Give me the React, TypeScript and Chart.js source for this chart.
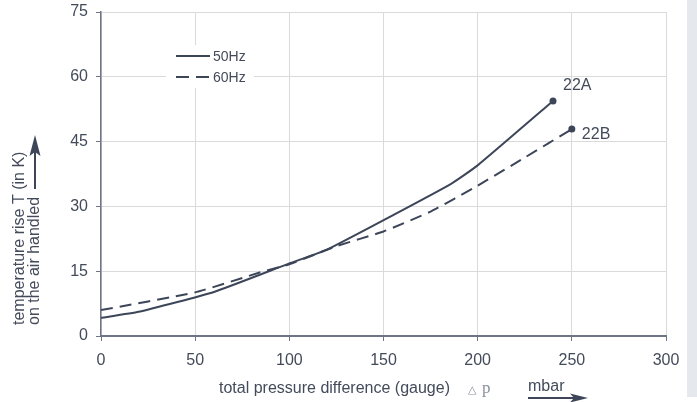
import React, { useEffect, useRef } from "react";
import { Chart, registerables } from "chart.js";

Chart.register(...registerables);

const pressure50 = [0, 20, 60, 100, 120, 185, 200, 240];
const temp50 = [4.2, 5.6, 10.2, 16.8, 20, 35, 39.5, 54.4];
const pressure60 = [0, 50, 85, 100, 125, 150, 175, 200, 225, 250];
const temp60 = [6.0, 10.1, 14.8, 16.6, 20.8, 24.2, 28.8, 34.8, 41.3, 47.9];
const xTicks = [0, 50, 100, 150, 200, 250, 300];
const yTicks = [0, 15, 30, 45, 60, 75];
const seriesNames = ["50Hz", "60Hz"];
const endLabels = ["22A", "22B"];
const xTitle = "total pressure difference (gauge)";
const xUnit = "mbar";
const yTitle1 = "temperature rise T (in K)";
const yTitle2 = "on the air handled";

const INK = "#3d4659";
const TEXT = "#434b5a";
const FONT = "'Liberation Sans', Arial, sans-serif";

const decorPlugin = {
  id: "decor",
  afterDatasetsDraw(chart: any) {
    const ctx = chart.ctx;
    const xs = chart.scales.x;
    const ys = chart.scales.y;
    ctx.save();
    // legend
    ctx.fillStyle = "#ffffff";
    ctx.fillRect(166, 45, 88, 43);
    ctx.strokeStyle = INK;
    ctx.lineWidth = 2;
    ctx.beginPath();
    ctx.moveTo(176, 56);
    ctx.lineTo(210, 56);
    ctx.stroke();
    ctx.setLineDash([13, 7]);
    ctx.beginPath();
    ctx.moveTo(176, 77);
    ctx.lineTo(210, 77);
    ctx.stroke();
    ctx.setLineDash([]);
    ctx.fillStyle = TEXT;
    ctx.font = `14px ${FONT}`;
    ctx.textBaseline = "middle";
    ctx.textAlign = "left";
    ctx.fillText(seriesNames[0], 213, 57);
    ctx.fillText(seriesNames[1], 213, 78);

    // end labels
    ctx.font = `16px ${FONT}`;
    const lastA = pressure50.length - 1;
    const lastB = pressure60.length - 1;
    ctx.fillText(endLabels[0], xs.getPixelForValue(pressure50[lastA]) + 10, ys.getPixelForValue(temp50[lastA]) - 15);
    ctx.fillText(endLabels[1], xs.getPixelForValue(pressure60[lastB]) + 10, ys.getPixelForValue(temp60[lastB]) + 6);

    // x title
    ctx.textBaseline = "alphabetic";
    ctx.fillStyle = TEXT;
    ctx.fillText(xTitle, 219, 393);
    ctx.fillStyle = "#8a909a";
    ctx.font = `11px 'DejaVu Serif', serif`;
    ctx.fillText("\u25B3", 468, 393);
    ctx.font = `17px 'Liberation Serif', serif`;
    ctx.fillText("p", 482, 393);
    ctx.fillStyle = TEXT;
    ctx.font = `16px ${FONT}`;
    ctx.fillText(xUnit, 528, 391);
    // x arrow
    ctx.strokeStyle = INK;
    ctx.fillStyle = INK;
    ctx.lineWidth = 2;
    ctx.beginPath();
    ctx.moveTo(528, 398);
    ctx.lineTo(574, 398);
    ctx.stroke();
    ctx.beginPath();
    ctx.moveTo(588, 398);
    ctx.lineTo(570, 393.5);
    ctx.lineTo(574, 398);
    ctx.lineTo(570, 402.5);
    ctx.closePath();
    ctx.fill();

    // y title
    ctx.save();
    ctx.rotate(-Math.PI / 2);
    ctx.fillStyle = TEXT;
    ctx.font = `16px ${FONT}`;
    ctx.textBaseline = "middle";
    ctx.textAlign = "left";
    ctx.fillText(yTitle1, -325, 20);
    ctx.fillText(yTitle2, -325, 35);
    ctx.restore();
    // y arrow
    ctx.strokeStyle = INK;
    ctx.fillStyle = INK;
    ctx.lineWidth = 2;
    ctx.beginPath();
    ctx.moveTo(35, 189);
    ctx.lineTo(35, 150);
    ctx.stroke();
    ctx.beginPath();
    ctx.moveTo(35, 135);
    ctx.lineTo(40.5, 156);
    ctx.lineTo(35, 152);
    ctx.lineTo(29.5, 156);
    ctx.closePath();
    ctx.fill();
    ctx.restore();
  },
};

export default function App() {
  const ref = useRef<HTMLCanvasElement | null>(null);
  useEffect(() => {
    if (!ref.current) return;
    const chart = new Chart(ref.current, {
      type: "line",
      data: {
        datasets: [
          {
            label: seriesNames[0],
            data: pressure50.map((x, i) => ({ x, y: temp50[i] })),
            borderColor: INK,
            backgroundColor: INK,
            borderWidth: 2,
            tension: 0.15,
            pointRadius: pressure50.map((_, i) => (i === pressure50.length - 1 ? 3.5 : 0)),
            pointBorderWidth: 0,
          },
          {
            label: seriesNames[1],
            data: pressure60.map((x, i) => ({ x, y: temp60[i] })),
            borderColor: INK,
            backgroundColor: INK,
            borderWidth: 2,
            borderDash: [12, 7],
            tension: 0.15,
            pointRadius: pressure60.map((_, i) => (i === pressure60.length - 1 ? 3.5 : 0)),
            pointBorderWidth: 0,
          },
        ],
      },
      options: {
        animation: false,
        responsive: false,
        layout: { padding: { left: 0, top: 12, right: 21, bottom: 0 } },
        plugins: { legend: { display: false }, tooltip: { enabled: false } },
        scales: {
          x: {
            type: "linear",
            min: 0,
            max: 300,
            afterFit: (s: any) => {
              s.height = 66;
              s.paddingLeft = 0;
              s.paddingRight = 0;
            },
            afterBuildTicks: (s: any) => {
              s.ticks = xTicks.map((v) => ({ value: v }));
            },
            ticks: { color: TEXT, font: { size: 16, family: FONT }, padding: 10, maxRotation: 0 },
            grid: { color: "#dadada", tickColor: "#6e7584", tickLength: 5, lineWidth: 1 },
            border: { color: "#6e7584", width: 2 },
          },
          y: {
            type: "linear",
            min: 0,
            max: 75,
            afterFit: (s: any) => {
              s.width = 101;
              s.paddingTop = 0;
              s.paddingBottom = 0;
            },
            afterBuildTicks: (s: any) => {
              s.ticks = yTicks.map((v) => ({ value: v }));
            },
            ticks: { color: TEXT, font: { size: 16, family: FONT }, padding: 8 },
            grid: { color: "#dadada", tickColor: "#6e7584", tickLength: 5, lineWidth: 1 },
            border: { color: "#6e7584", width: 1.5 },
          },
        },
      },
      plugins: [decorPlugin],
    });
    return () => chart.destroy();
  }, []);
  return (
    <div style={{ position: "fixed", left: 0, top: 0, width: 697, height: 402, background: "#ffffff" }}>
      <canvas ref={ref} width={687} height={402} style={{ position: "absolute", left: 0, top: 0 }} />
      <div style={{ position: "absolute", left: 687, top: 0, width: 10, height: 397, background: "#e5e8ec" }} />
    </div>
  );
}
